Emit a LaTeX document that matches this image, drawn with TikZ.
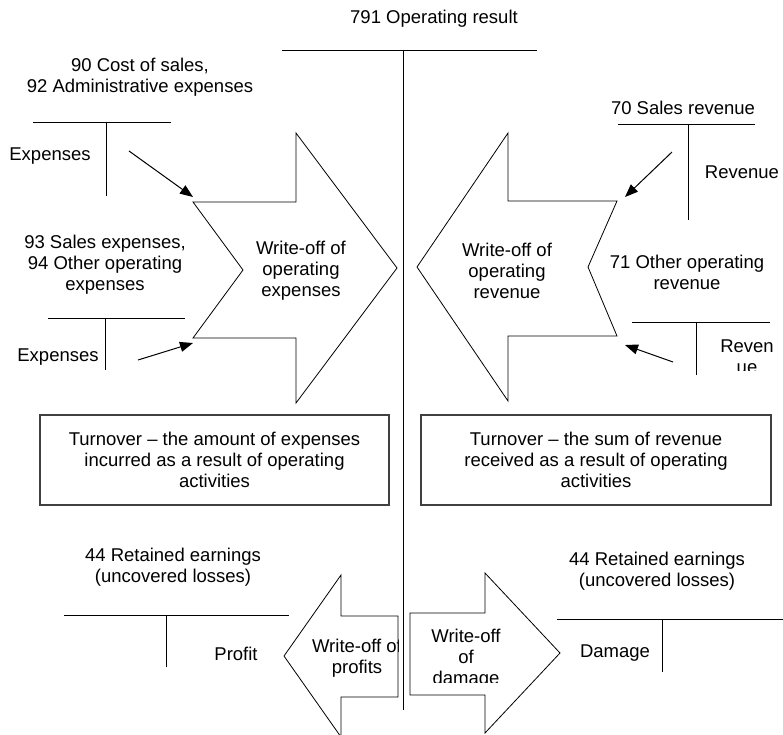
\documentclass[tikz,border=0pt]{standalone}
\usepackage{fontspec}
\setmainfont{Liberation Sans}
\usetikzlibrary{arrows.meta}
\begin{document}
\begin{tikzpicture}[x=1pt,y=-1pt,
  lbl/.style={font=\fontsize{18.5}{21}\selectfont, align=center, inner sep=0pt},
  tline/.style={line width=1pt},
  blk/.style={draw, line width=0.8pt, fill=white, line join=miter},
  ptr/.style={line width=1pt, -{Triangle[length=13pt,width=10pt]}},
  tbox/.style={draw=black!75, line width=1.2pt, inner sep=0pt, minimum height=90pt,
    font=\fontsize{18.5}{21}\selectfont, align=center}
]
\useasboundingbox (0,0) rectangle (783,734);

% central T-account 791
\draw[tline] (282,50) -- (537,50);
\draw[tline] (403,50) -- (403,710);
\node[lbl] (t791) at (434,19) {791 Operating result};

% ---------- left top accounts ----------
\node[lbl] (t90) at (140,77) {90 Cost of sales,\\92 Administrative expenses};
\draw[tline] (33,122) -- (171,122);
\draw[tline] (106,122) -- (106,196);
\node[lbl] (exp1) at (50,156) {Expenses};

\node[lbl] (t93) at (105,265) {93 Sales expenses,\\94 Other operating\\expenses};
\draw[tline] (48,318) -- (185,318);
\draw[tline] (105,318) -- (105,370);
\node[lbl] (exp2) at (58,357) {Expenses};

% big right arrow (expenses)
\draw[blk] (193,202) -- (296,202) -- (296,133) -- (397,268) -- (296,403)
  -- (296,338) -- (193,338) -- (243,270) -- cycle;
\node[lbl] (woexp) at (301,271) {Write-off of\\operating\\expenses};

\coordinate (a1s) at (129,151);
\coordinate (a1e) at (193,197);
\coordinate (a2s) at (138,360);
\coordinate (a2e) at (193,343);
\draw[ptr] (a1s) -- (a1e);
\draw[ptr] (a2s) -- (a2e);

% ---------- right top accounts ----------
\node[lbl] (t70) at (683,108) {70 Sales revenue};
\draw[tline] (618,124) -- (755,124);
\draw[tline] (688,124) -- (688,220);
\node[lbl] (rev1) at (742,172) {Revenue};

\node[lbl] (t71) at (687,272) {71 Other operating\\revenue};
\draw[tline] (632,322) -- (770,322);
\draw[tline] (696,322) -- (696,375);
\begin{scope}
  \clip (700,325) rectangle (783,370);
  \node[lbl] (rev2) at (747,357) {Reven\\ue};
\end{scope}

% big left arrow (revenue)
\draw[blk] (617,201) -- (508,201) -- (508,133) -- (417,267) -- (508,401)
  -- (508,336) -- (617,336) -- (588,267) -- cycle;
\node[lbl] (worev) at (507,271) {Write-off of\\operating\\revenue};

\coordinate (a3s) at (672,152);
\coordinate (a3e) at (625,197);
\coordinate (a4s) at (673,362);
\coordinate (a4e) at (625,345);
\draw[ptr] (a3s) -- (a3e);
\draw[ptr] (a4s) -- (a4e);

% ---------- turnover boxes ----------
\node[tbox, minimum width=349pt] (box1) at (214.5,460) {Turnover -- the amount of expenses\\incurred as a result of operating\\activities};
\node[tbox, minimum width=350pt] (box2) at (596,460) {Turnover -- the sum of revenue\\received as a result of operating\\activities};

% ---------- bottom accounts ----------
\node[lbl] (t44l) at (173,567) {44 Retained earnings\\(uncovered losses)};
\draw[tline] (64,615) -- (289,615);
\draw[tline] (166,615) -- (166,667);
\node[lbl] (profit) at (236,654) {Profit};

\node[lbl] (t44r) at (657,571) {44 Retained earnings\\(uncovered losses)};
\draw[tline] (557,619) -- (783,619);
\draw[tline] (662,619) -- (662,672);
\node[lbl] (damage) at (615,653) {Damage};

% small left arrow (profits)
\draw[blk] (398,616) -- (341,616) -- (341,575) -- (284,656) -- (341,737)
  -- (341,697) -- (398,697) -- cycle;
\begin{scope}
  \clip (284,600) rectangle (398,700);
  \node[lbl] (woprof) at (357,658) {Write-off of\\profits};
\end{scope}

% small right arrow (damage)
\draw[blk] (410,613) -- (485,613) -- (485,573) -- (560,653) -- (485,733)
  -- (485,695) -- (410,695) -- cycle;
\begin{scope}
  \clip (410,613) rectangle (540,682);
  \node[lbl, anchor=north] (wodam) at (466,629) {Write-off\\of\\damage};
\end{scope}
\end{tikzpicture}
\end{document}
